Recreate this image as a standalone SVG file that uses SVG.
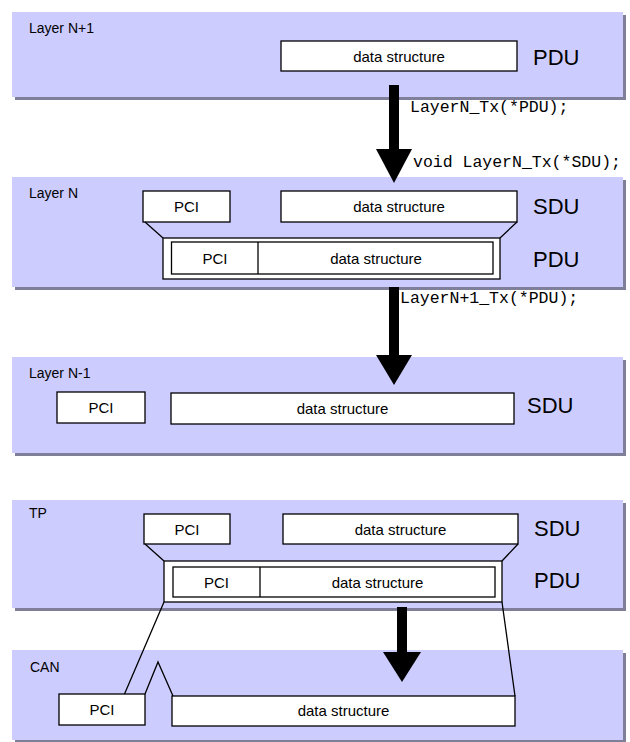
<svg xmlns="http://www.w3.org/2000/svg" width="630" height="742" viewBox="0 0 630 742">
<defs>
<style>
.layer{fill:#ccccff;stroke:none}
.shadow{fill:#7f7f99}
.box{fill:#ffffff;stroke:#000;stroke-width:1.3}
.lbl{font-family:"Liberation Sans",Arial,sans-serif;font-size:14px;fill:#000}
.txt{font-family:"Liberation Sans",Arial,sans-serif;font-size:15px;fill:#000;text-anchor:middle}
.big{font-family:"Liberation Sans",Arial,sans-serif;font-size:22px;fill:#000}
.mono{font-family:"Liberation Mono","Courier New",monospace;font-size:16.5px;fill:#000}
.ln{stroke:#000;stroke-width:1.3;fill:none}
.arrow{fill:#000}
</style>
</defs>
<rect width="630" height="742" fill="#fff"/>
<g id="layerN1">
<rect class="shadow" x="15" y="15" width="611" height="85"/>
<rect class="layer" x="12" y="12" width="611" height="85"/>
<text class="lbl" x="29" y="33">Layer N+1</text>
<rect class="box" x="281" y="41" width="236" height="30"/>
<text class="txt" x="399" y="62">data structure</text>
<text class="big" x="533" y="65">PDU</text>
</g>
<g id="layerN">
<rect class="shadow" x="15" y="180" width="611" height="110"/>
<rect class="layer" x="12" y="177" width="611" height="110"/>
<text class="lbl" x="29" y="198">Layer N</text>
<rect class="box" x="143" y="191" width="87" height="31"/>
<text class="txt" x="186.5" y="212">PCI</text>
<rect class="box" x="281" y="191" width="236" height="31"/>
<text class="txt" x="399" y="212">data structure</text>
<text class="big" x="533" y="214">SDU</text>
<path class="ln" d="M145 222 L163 238 M517 222 L500 238"/>
<rect class="box" x="163" y="238" width="337" height="41"/>
<rect class="box" x="171.5" y="242" width="321.5" height="32"/>
<line class="ln" x1="258" y1="242" x2="258" y2="274"/>
<text class="txt" x="215" y="264">PCI</text>
<text class="txt" x="376" y="264">data structure</text>
<text class="big" x="533" y="267">PDU</text>
</g>
<g id="layerN-1">
<rect class="shadow" x="15" y="360" width="611" height="96"/>
<rect class="layer" x="12" y="357" width="611" height="96"/>
<text class="lbl" x="29" y="378">Layer N-1</text>
<rect class="box" x="57" y="392" width="88" height="31"/>
<text class="txt" x="101" y="413">PCI</text>
<rect class="box" x="171" y="393" width="343" height="31"/>
<text class="txt" x="342.5" y="414">data structure</text>
<text class="big" x="527" y="413">SDU</text>
</g>
<g id="tp">
<rect class="shadow" x="15" y="503" width="611" height="108"/>
<rect class="layer" x="12" y="500" width="611" height="108"/>
<text class="lbl" x="29" y="518">TP</text>
<rect class="box" x="144" y="514" width="86" height="30"/>
<text class="txt" x="187" y="535">PCI</text>
<rect class="box" x="283" y="514" width="235" height="30"/>
<text class="txt" x="400.5" y="535">data structure</text>
<text class="big" x="534" y="536">SDU</text>
<path class="ln" d="M145 544 L164 561 M518 544 L502 561"/>
<rect class="box" x="164" y="561" width="338" height="41"/>
<rect class="box" x="173" y="567" width="322" height="30"/>
<line class="ln" x1="260" y1="567" x2="260" y2="597"/>
<text class="txt" x="216.5" y="588">PCI</text>
<text class="txt" x="377.5" y="588">data structure</text>
<text class="big" x="534" y="588">PDU</text>
</g>
<g id="can">
<rect class="shadow" x="15" y="653" width="611" height="89"/>
<rect class="layer" x="12" y="650" width="611" height="90"/>
<text class="lbl" x="30" y="672">CAN</text>
<rect class="box" x="59" y="694" width="86" height="31"/>
<text class="txt" x="102" y="715">PCI</text>
<rect class="box" x="172" y="696" width="343" height="30"/>
<text class="txt" x="343.5" y="716">data structure</text>
</g>
<g id="connectors">
<rect class="arrow" x="389" y="85" width="10" height="65"/>
<polygon class="arrow" points="376,149 412,149 394,183"/>
<text class="mono" x="410" y="112">LayerN_Tx(*PDU);</text>
<text class="mono" x="413" y="167">void LayerN_Tx(*SDU);</text>
<rect class="arrow" x="389" y="287" width="10" height="69"/>
<polygon class="arrow" points="376,355 412,355 394,385"/>
<text class="mono" x="400" y="303">LayerN+1_Tx(*PDU);</text>
<rect class="arrow" x="397" y="607" width="10" height="46"/>
<polygon class="arrow" points="383,652 421,652 402,682"/>
<path class="ln" d="M164 602 L124.5 694 M502 602 L515 696 M145 694 L158 662 L173 696"/>
</g>
</svg>
